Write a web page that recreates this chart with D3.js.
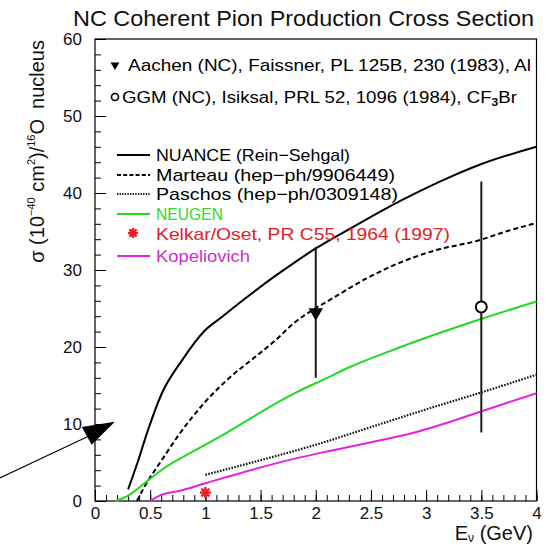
<!DOCTYPE html>
<html>
<head>
<meta charset="utf-8">
<script src="https://cdn.jsdelivr.net/npm/d3@7"></script>
<style>
  html, body { margin: 0; padding: 0; background: #fff; }
  svg { display: block; font-family: "Liberation Sans", Arial, Helvetica, sans-serif; }
</style>
</head>
<body>
<svg id="chart" width="547" height="545"></svg>
<script>
// Neutrino energy (GeV) and cross-section (1e-40 cm^2 per 16O nucleus) per model
const nuanceE   = [0.30, 0.39, 0.48, 0.60, 0.79, 1.00, 1.15, 1.36, 1.63, 1.81, 2.00, 2.34, 2.77, 3.22, 3.49, 4.00];
const nuanceXS  = [1.5, 5.2, 9.2, 13.8, 18.3, 22.2, 23.9, 26.3, 29.2, 31.0, 32.8, 35.6, 39.0, 42.1, 43.7, 46.0];

const marteauE  = [0.38, 0.45, 0.60, 0.76, 1.00, 1.21, 1.45, 1.63, 1.81, 1.97, 2.09, 2.46, 2.77, 3.07, 3.49, 3.70, 4.00];
const marteauXS = [0.0, 1.9, 5.2, 8.6, 12.9, 15.9, 18.7, 20.8, 23.2, 24.8, 25.8, 28.9, 31.0, 32.5, 33.9, 34.9, 36.1];

const paschosE  = [1.0, 1.5, 2.0, 2.5, 3.0, 3.5, 4.0];
const paschosXS = [3.4, 5.3, 7.3, 9.6, 11.9, 14.1, 16.4];

const neugenE   = [0.18, 0.30, 0.44, 0.60, 0.91, 1.21, 1.51, 1.81, 2.09, 2.31, 2.77, 3.49, 4.00];
const neugenXS  = [0.0, 0.7, 2.2, 4.0, 6.6, 9.0, 11.6, 14.0, 15.9, 17.4, 20.0, 23.6, 25.9];

const kopE      = [0.50, 0.60, 0.76, 1.00, 1.36, 1.81, 2.09, 2.46, 2.92, 3.22, 3.49, 4.00];
const kopXS     = [0.0, 0.8, 1.3, 2.3, 3.8, 5.5, 6.4, 7.5, 9.0, 10.3, 11.6, 14.0];

// Kelkar/Oset single point
const kelkarE = [1.0];
const kelkarXS = [1.1];

// Measurements with errors
const aachenE = [2.0], aachenXS = [24.5], aachenErr = [8.5];
const ggmE = [3.5], ggmXS = [25.2], ggmErr = [16.3];

// Axis ticks
const xMajor = [0, 0.5, 1, 1.5, 2, 2.5, 3, 3.5, 4];
const xMinor = d3.range(0, 4.0001, 0.1);
const yMajor = [0, 10, 20, 30, 40, 50, 60];
const yMinor = d3.range(0, 60.001, 2);

const GREEN = "#1fdc1f", RED = "#ee1c24", MAGENTA = "#e620e6";

const svg = d3.select("#chart");
const x = d3.scaleLinear().domain([0, 4]).range([95, 536.5]);
const y = d3.scaleLinear().domain([0, 60]).range([501, 39]);

// Frame
svg.append("rect")
  .attr("x", x(0)).attr("y", y(60))
  .attr("width", x(4) - x(0)).attr("height", y(0) - y(60))
  .attr("fill", "none").attr("stroke", "#000").attr("stroke-width", 1.2);

// Axes with ticks pointing inward
function styleAxis(g, fs) {
  g.select(".domain").remove();
  g.selectAll("line").attr("stroke", "#000").attr("stroke-width", 1);
  g.selectAll("text").attr("font-size", fs).attr("fill", "#111")
    .attr("font-family", "'Liberation Sans', Arial, sans-serif");
}
svg.append("g").attr("transform", `translate(0,${y(0)})`)
  .call(d3.axisBottom(x).tickValues(xMinor).tickSize(-6).tickFormat(""))
  .call(g => styleAxis(g, 17));
svg.append("g").attr("transform", `translate(0,${y(0)})`)
  .call(d3.axisBottom(x).tickValues(xMajor).tickSize(-11).tickPadding(6).tickFormat(d3.format("~g")))
  .call(g => styleAxis(g, 17));
svg.append("g").attr("transform", `translate(${x(0)},0)`)
  .call(d3.axisLeft(y).tickValues(yMinor).tickSize(-6).tickFormat(""))
  .call(g => styleAxis(g, 17));
svg.append("g").attr("transform", `translate(${x(0)},0)`)
  .call(d3.axisLeft(y).tickValues(yMajor).tickSize(-11).tickPadding(13).tickFormat(d3.format("~g")))
  .call(g => styleAxis(g, 17));

// Model curves
const line = d3.line().x(d => x(d[0])).y(d => y(d[1])).curve(d3.curveMonotoneX);
function curve(E, XS, color, dash, w) {
  svg.append("path")
    .attr("d", line(d3.zip(E, XS)))
    .attr("fill", "none").attr("stroke", color)
    .attr("stroke-width", w).attr("stroke-dasharray", dash)
    .attr("stroke-linejoin", "round");
}
curve(nuanceE, nuanceXS, "#000", null, 2);
curve(marteauE, marteauXS, "#000", "5,3", 2);
curve(paschosE, paschosXS, "#111", "1.6,1.4", 2.2);
curve(neugenE, neugenXS, GREEN, null, 2);
curve(kopE, kopXS, MAGENTA, null, 2);

// Asterisk marker
function star(cx, cy, r, color) {
  const g = svg.append("g").attr("stroke", color).attr("stroke-width", 2.4);
  [0, 45, 90, 135].forEach(a => {
    const t = a * Math.PI / 180;
    g.append("line")
      .attr("x1", cx - r * Math.cos(t)).attr("y1", cy - r * Math.sin(t))
      .attr("x2", cx + r * Math.cos(t)).attr("y2", cy + r * Math.sin(t));
  });
}
kelkarE.forEach((e, i) => star(x(e), y(kelkarXS[i]), 5.5, RED));

// Error bars
function errBars(E, XS, Err) {
  svg.append("g").selectAll("line").data(d3.range(E.length)).join("line")
    .attr("x1", i => x(E[i])).attr("x2", i => x(E[i]))
    .attr("y1", i => y(XS[i] + Err[i])).attr("y2", i => y(XS[i] - Err[i]))
    .attr("stroke", "#1a1a1a").attr("stroke-width", 2);
}
errBars(aachenE, aachenXS, aachenErr);
errBars(ggmE, ggmXS, ggmErr);

const tri = d3.symbol().type(d3.symbolTriangle);
aachenE.forEach((e, i) => {
  svg.append("path").attr("d", tri.size(90)())
    .attr("transform", `translate(${x(e)},${y(aachenXS[i])}) rotate(180)`)
    .attr("fill", "#000");
});
ggmE.forEach((e, i) => {
  svg.append("circle").attr("cx", x(e)).attr("cy", y(ggmXS[i])).attr("r", 5.5)
    .attr("fill", "#fff").attr("stroke", "#000").attr("stroke-width", 2);
});

// Data legend
svg.append("path").attr("d", tri.size(34)())
  .attr("transform", "translate(115,65) rotate(180)").attr("fill", "#000");
svg.append("text").attr("x", 128).attr("y", 71).attr("font-size", 17)
  .attr("textLength", 403).attr("lengthAdjust", "spacingAndGlyphs")
  .text("Aachen (NC), Faissner, PL 125B, 230 (1983), Al");
svg.append("circle").attr("cx", 115).attr("cy", 97).attr("r", 3.5)
  .attr("fill", "#fff").attr("stroke", "#000").attr("stroke-width", 1.6);
const ggmT = svg.append("text").attr("x", 122).attr("y", 103).attr("font-size", 17)
  .attr("textLength", 395).attr("lengthAdjust", "spacingAndGlyphs");
ggmT.append("tspan").text("GGM (NC), Isiksal, PRL 52, 1096 (1984), CF");
ggmT.append("tspan").attr("font-size", 11).attr("font-weight", "bold").attr("dy", 3).text("3");
ggmT.append("tspan").attr("dy", -3).text("Br");

// Model legend
const legend = [
  { label: "NUANCE (Rein\u2212Sehgal)", color: "#000", text: "#000", dash: null, end: 350 },
  { label: "Marteau (hep\u2212ph/9906449)", color: "#000", text: "#000", dash: "4,2.2", end: 395 },
  { label: "Paschos (hep\u2212ph/0309148)", color: "#222", text: "#000", dash: "1.4,1.2", end: 398 },
  { label: "NEUGEN", color: GREEN, text: "#2ed82e", dash: null, end: 223 },
  { label: "Kelkar/Oset, PR C55, 1964 (1997)", color: RED, text: "#e0202a", dash: null, end: 450, star: true },
  { label: "Kopeliovich", color: MAGENTA, text: "#cc2ecc", dash: null, end: 250 }
];
const legendY = [155, 175, 194, 214, 234, 256];
legend.forEach((d, i) => {
  const ly = legendY[i];
  if (d.star) {
    star(133, ly - 1, 5, RED);
  } else {
    svg.append("line").attr("x1", 117).attr("x2", 150).attr("y1", ly).attr("y2", ly)
      .attr("stroke", d.color).attr("stroke-width", 2).attr("stroke-dasharray", d.dash);
  }
  svg.append("text").attr("x", 156).attr("y", ly + 6).attr("font-size", 17)
    .attr("fill", d.text)
    .attr("textLength", d.end - 156).attr("lengthAdjust", "spacingAndGlyphs")
    .text(d.label);
});

// Title
svg.append("text").attr("x", 303.5).attr("y", 26).attr("text-anchor", "middle")
  .attr("font-size", 22).attr("fill", "#111")
  .attr("textLength", 461).attr("lengthAdjust", "spacingAndGlyphs")
  .text("NC Coherent Pion Production Cross Section");

// X axis title
const xt = svg.append("text").attr("x", 533).attr("y", 540).attr("text-anchor", "end")
  .attr("font-size", 20).attr("fill", "#111");
xt.append("tspan").text("E");
xt.append("tspan").attr("font-size", 12).attr("dy", 2).text("\u03bd");
xt.append("tspan").attr("dy", -2).text(" (GeV)");

// Y axis title, right-aligned against the top of the frame
const yt = svg.append("text").attr("transform", "translate(44,40) rotate(-90)")
  .attr("text-anchor", "end").attr("font-size", 20).attr("fill", "#111");
yt.append("tspan").text("\u03c3 (10");
yt.append("tspan").attr("font-size", 11).attr("dy", -9).text("\u221240");
yt.append("tspan").attr("dy", 9).text(" cm");
yt.append("tspan").attr("font-size", 11).attr("dy", -9).text("2");
yt.append("tspan").attr("dy", 9).text(")/");
yt.append("tspan").attr("font-size", 11).attr("dy", -9).text("16");
yt.append("tspan").attr("dy", 9).text("O\u2002nucleus");

// Annotation arrow pointing at the low-energy region
const tail = [x(-0.862), y(3.0)], tip = [x(0.18), y(10.3)];
svg.append("line").attr("x1", tail[0]).attr("y1", tail[1])
  .attr("x2", x(-0.06)).attr("y2", y(8.4))
  .attr("stroke", "#000").attr("stroke-width", 1.2);
svg.append("path")
  .attr("d", `M${tip[0]},${tip[1]} L${x(-0.12)},${y(9.6)} L${x(-0.03)},${y(7.3)} Z`)
  .attr("fill", "#000");
</script>
</body>
</html>
